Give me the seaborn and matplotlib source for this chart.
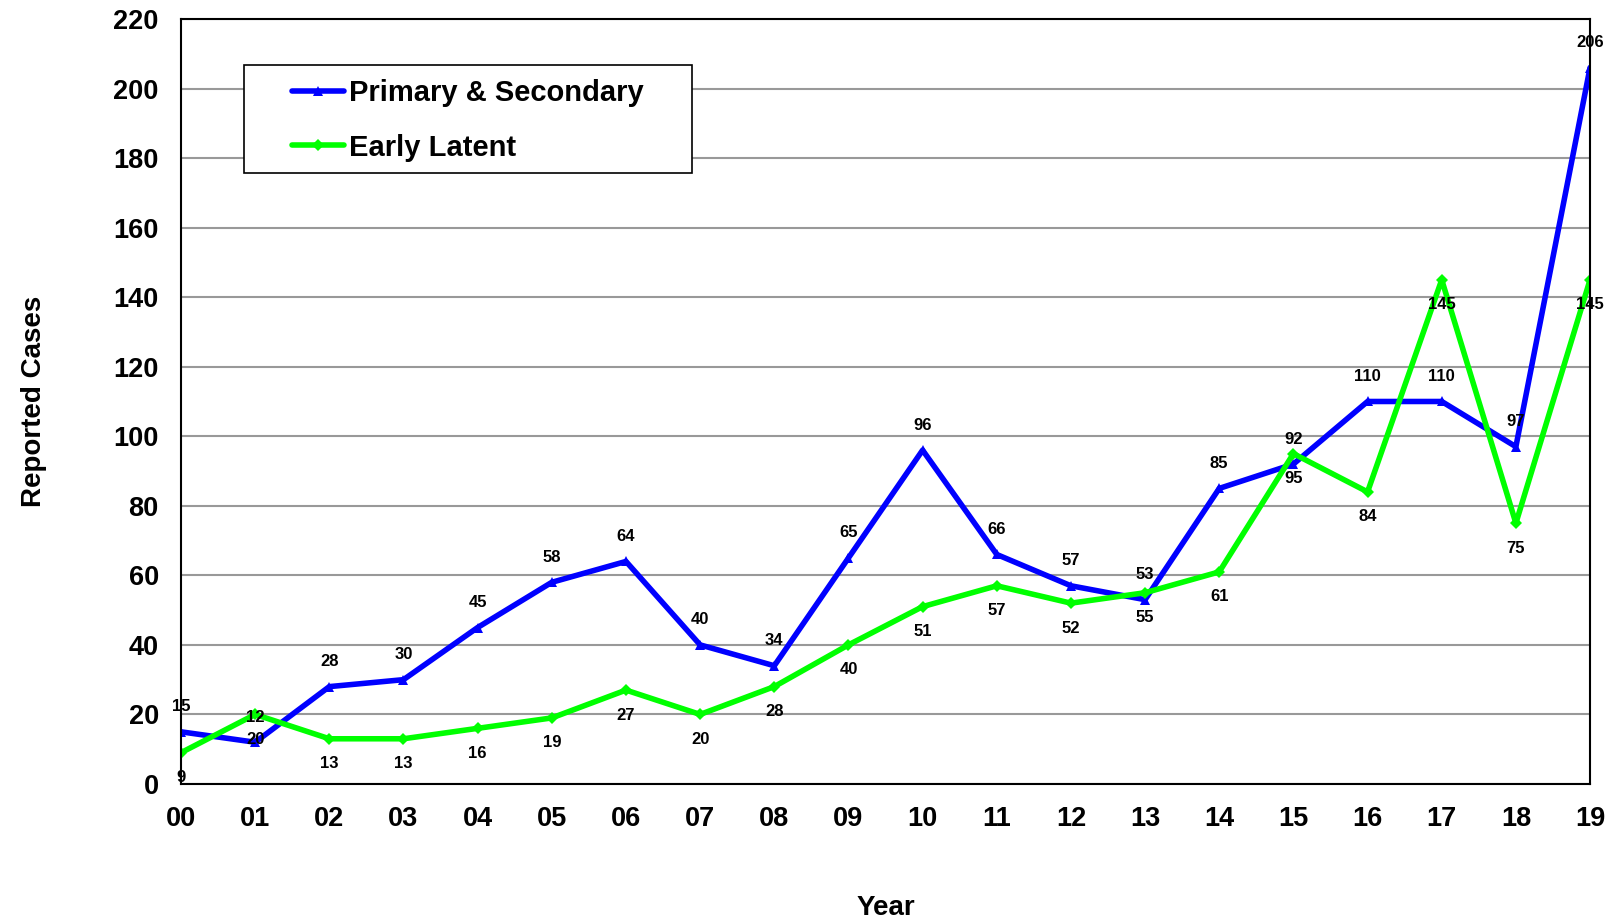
import matplotlib
matplotlib.use('Agg')
import matplotlib.pyplot as plt
from matplotlib.patches import Rectangle
import seaborn as sns
import pandas as pd

years = ['00', '01', '02', '03', '04', '05', '06', '07', '08', '09',
         '10', '11', '12', '13', '14', '15', '16', '17', '18', '19']
primary_secondary = [15, 12, 28, 30, 45, 58, 64, 40, 34, 65,
                     96, 66, 57, 53, 85, 92, 110, 110, 97, 206]
early_latent = [9, 20, 13, 13, 16, 19, 27, 20, 28, 40,
                51, 57, 52, 55, 61, 95, 84, 145, 75, 145]

df = pd.DataFrame({'pos': range(len(years)), 'year': years,
                   'ps': primary_secondary, 'el': early_latent})

sns.set_style('white')
plt.rcParams['font.family'] = ['Liberation Sans', 'DejaVu Sans']
plt.rcParams['font.weight'] = 'bold'
plt.rcParams['text.color'] = 'black'
plt.rcParams['axes.labelcolor'] = 'black'
plt.rcParams['xtick.color'] = 'black'
plt.rcParams['ytick.color'] = 'black'

fig = plt.figure(figsize=(16.22, 9.22), dpi=100)
ax = fig.add_axes([0.1116, 0.1497, 0.8687, 0.8297])

sns.lineplot(data=df, x='pos', y='ps', ax=ax, color='#0000FF', linewidth=4,
             marker='^', markersize=7, markeredgewidth=0, label='Primary & Secondary')
sns.lineplot(data=df, x='pos', y='el', ax=ax, color='#00FF00', linewidth=4,
             marker='D', markersize=6, markeredgewidth=0, label='Early Latent')

# data labels: blue above, green below
for i, v in enumerate(primary_secondary):
    ax.annotate(str(v), (i, v), xytext=(0, 18), textcoords='offset points',
                ha='center', va='center', fontsize=12, fontweight='bold', color='black')
for i, v in enumerate(early_latent):
    ax.annotate(str(v), (i, v), xytext=(0, -18), textcoords='offset points',
                ha='center', va='center', fontsize=12, fontweight='bold', color='black')

ax.set_xlim(0, 19)
ax.set_ylim(0, 220)
ax.set_xticks(range(len(years)))
ax.set_xticklabels(years)
ax.set_yticks(range(0, 221, 20))
ax.yaxis.grid(True, color='#999999', linewidth=1.5)
ax.set_axisbelow(True)
for s in ax.spines.values():
    s.set_color('black')
    s.set_linewidth(1.5)
ax.tick_params(axis='both', direction='out', length=7, width=1.5, color='black',
               labelsize=19.5)
ax.tick_params(axis='x', pad=9)
ax.tick_params(axis='y', pad=9)
for lab in ax.get_xticklabels() + ax.get_yticklabels():
    lab.set_fontweight('bold')

ax.set_xlabel('Year', fontsize=20, fontweight='bold', labelpad=45)
ax.set_ylabel('Reported Cases', fontsize=20, fontweight='bold', labelpad=48)

# legend box drawn separately (wider on the right like the original)
ax.add_patch(Rectangle((0.0448, 0.7986), 0.3179, 0.1419, transform=ax.transAxes,
                       facecolor='white', edgecolor='black', linewidth=1.2, zorder=5))
leg = ax.legend(loc='upper left', bbox_to_anchor=(0.0786, 0.921), fontsize=21,
                frameon=False, handlelength=1.8, handletextpad=0.17, borderpad=0,
                labelspacing=0.9, borderaxespad=0)
leg.set_zorder(6)
for t in leg.get_texts():
    t.set_fontweight('bold')

fig.savefig('out.png', dpi=100)
